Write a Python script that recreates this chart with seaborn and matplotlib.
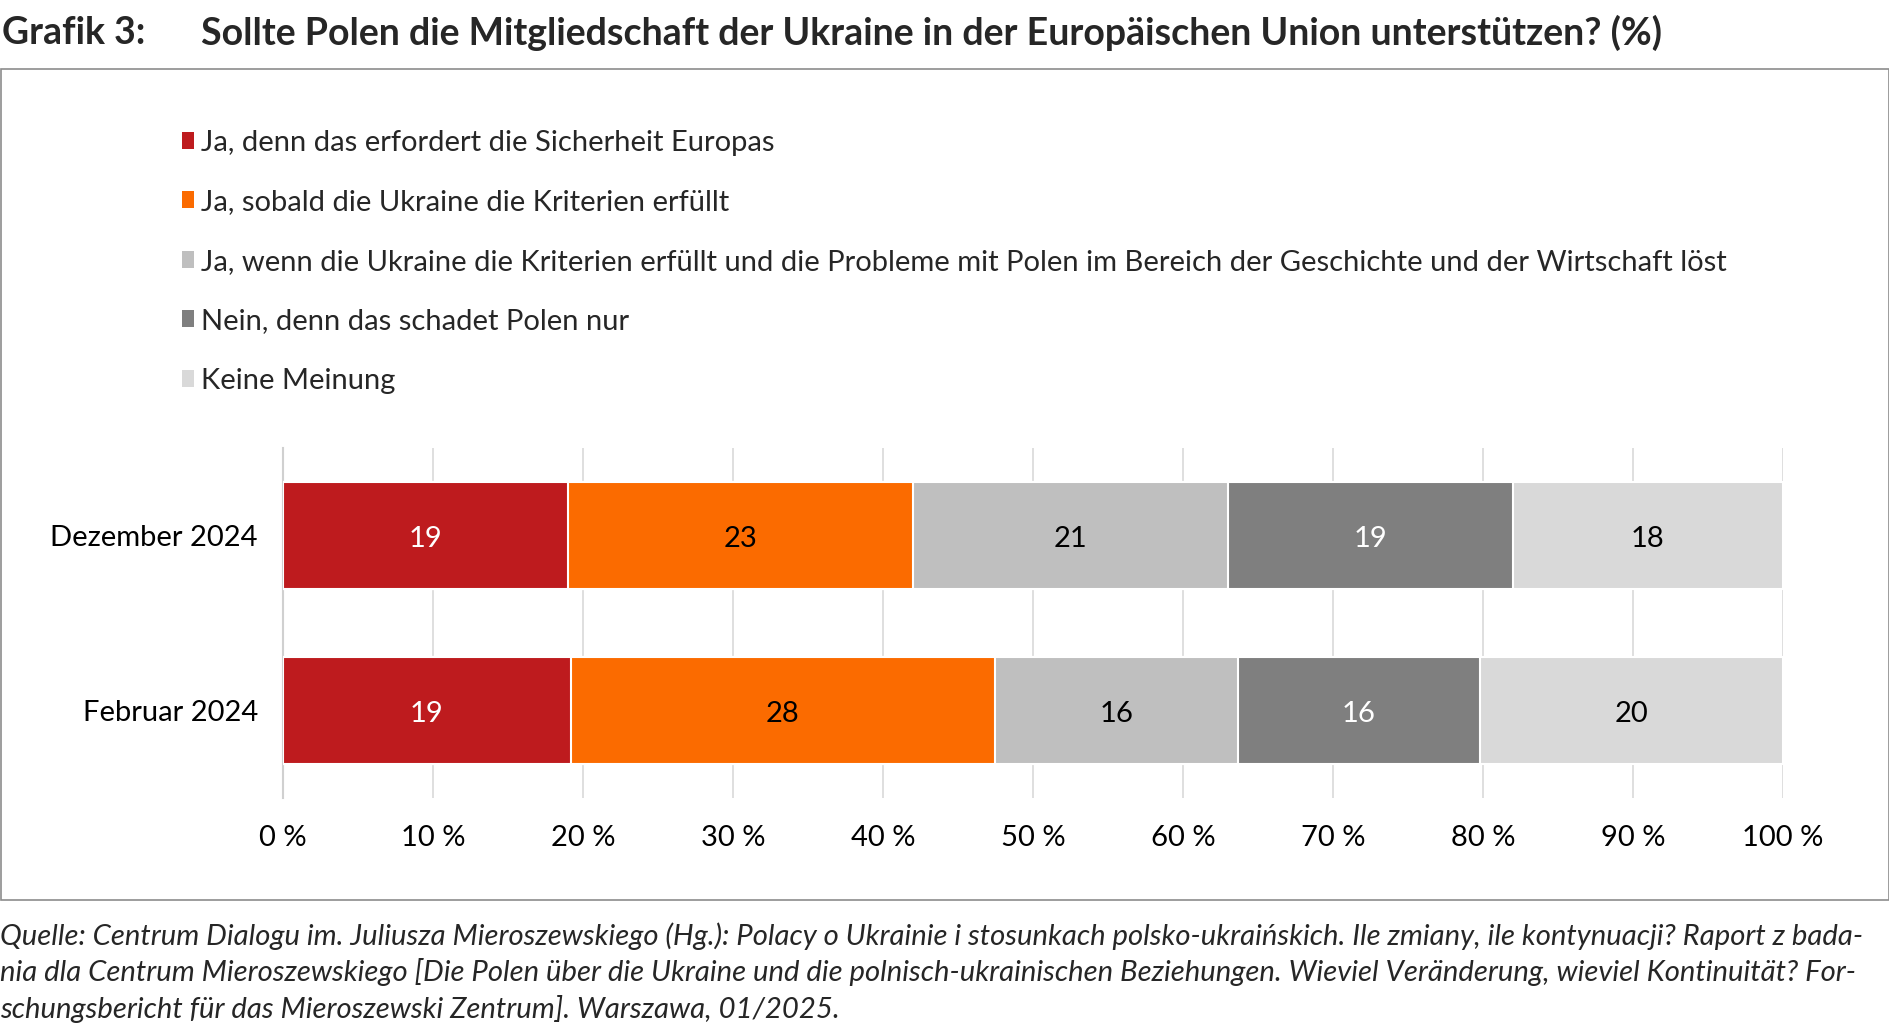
import numpy as np
import pandas as pd
import matplotlib
matplotlib.use("Agg")
import matplotlib.pyplot as plt
from matplotlib.patches import Patch, Rectangle
import seaborn as sns

# ---------------- data ----------------
categories = ["Dezember 2024", "Februar 2024"]
series = [
    "Ja, denn das erfordert die Sicherheit Europas",
    "Ja, sobald die Ukraine die Kriterien erfüllt",
    "Ja, wenn die Ukraine die Kriterien erfüllt und die Probleme mit Polen im Bereich der Geschichte und der Wirtschaft löst",
    "Nein, denn das schadet Polen nur",
    "Keine Meinung",
]
values_dez = [19, 23, 21, 19, 18]
values_feb = [19, 28, 16, 16, 20]
x_ticks = [0, 10, 20, 30, 40, 50, 60, 70, 80, 90, 100]
x_ticklabels = ["0 %", "10 %", "20 %", "30 %", "40 %", "50 %", "60 %", "70 %", "80 %", "90 %", "100 %"]

colors = ["#BE1B1E", "#FB6B00", "#BFBFBF", "#7F7F7F", "#D9D9D9"]
label_colors = ["white", "black", "black", "white", "black"]

title_prefix = "Grafik 3:"
title = "Sollte Polen die Mitgliedschaft der Ukraine in der Europäischen Union unterstützen? (%)"
source = ("Quelle: Centrum Dialogu im. Juliusza Mieroszewskiego (Hg.): Polacy o Ukrainie i stosunkach polsko-ukraińskich. Ile zmiany, ile kontynuacji? Raport z bada-\n"
          "nia dla Centrum Mieroszewskiego [Die Polen über die Ukraine und die polnisch-ukrainischen Beziehungen. Wieviel Veränderung, wieviel Kontinuität? For-\n"
          "schungsbericht für das Mieroszewski Zentrum]. Warszawa, 01/2025.")

# ---------------- prep ----------------
raw = np.array([values_dez, values_feb], dtype=float)
pct = raw / raw.sum(axis=1, keepdims=True) * 100.0   # 100% stacked
cum = np.cumsum(pct, axis=1)

sns.set_theme(style="white")
plt.rcParams["font.family"] = ["Lato", "DejaVu Sans"]

W, H, DPI = 1890, 1031, 100
fig = plt.figure(figsize=(W / DPI, H / DPI), dpi=DPI)

# outer frame
fig.patches.append(Rectangle((1 / W, 1 - 900 / H), (W - 2) / W, (900 - 69) / H,
                             transform=fig.transFigure, fill=False,
                             edgecolor="#8C8C8C", linewidth=1.2, zorder=0))

ax = fig.add_axes([283 / W, 1 - 798 / H, (1783 - 283) / W, (798 - 448) / H])

# layered cumulative bars (last first so earlier segments sit on top)
for i in reversed(range(len(series))):
    df = pd.DataFrame({"cat": categories, "val": cum[:, i]})
    sns.barplot(data=df, x="val", y="cat", orient="h", color=colors[i],
                width=0.61, edgecolor="white", linewidth=1.5, saturation=1,
                ax=ax, zorder=3)

# segment labels
for r in range(len(categories)):
    left = 0.0
    for i in range(len(series)):
        ax.annotate(f"{raw[r, i]:.0f}", xy=(left + pct[r, i] / 2, r), xytext=(0, -2.5),
                    textcoords="offset points", ha="center", va="center",
                    color=label_colors[i], fontsize=21, zorder=5)
        left += pct[r, i]

ax.set_xlim(0, 100)
ax.set_ylim(1.5, -0.5)
ax.set_xticks(x_ticks)
ax.set_xticklabels(x_ticklabels, fontsize=21)
ax.tick_params(axis="x", length=0, pad=19.5)
ax.set_yticks(range(len(categories)))
ax.set_yticklabels(categories, fontsize=21)
ax.tick_params(axis="y", which="major", length=0, pad=18)
ax.set_yticks([-0.5, 0.5, 1.5], minor=True)
ax.tick_params(axis="y", which="minor", length=6, width=1.5, color="#D0D0D0")
ax.set_xlabel("")
ax.set_ylabel("")
ax.xaxis.grid(True, color="#D9D9D9", linewidth=1.2, zorder=0)
ax.set_axisbelow(True)
for s in ["top", "right", "bottom"]:
    ax.spines[s].set_visible(False)
ax.spines["left"].set_color("#D0D0D0")
ax.spines["left"].set_linewidth(1.5)
for t in ax.get_xticklabels() + ax.get_yticklabels():
    t.set_color("black")

# legend
handles = [Patch(facecolor=c, edgecolor="none") for c in colors]
fig.legend(handles, series, loc="upper left", bbox_to_anchor=(182.5 / W, 1 - 129.5 / H),
           frameon=False, fontsize=21, handlelength=0.38, handleheight=0.52,
           handletextpad=0.25, labelspacing=1.15, borderaxespad=0, borderpad=0)

# title
fig.text(2 / W, 1 - 33 / H, title_prefix, fontsize=27, fontweight="bold", va="center", ha="left")
fig.text(201 / W, 1 - 33 / H, title, fontsize=27, fontweight="bold", va="center", ha="left")

# source
fig.text(0 / W, 1 - 922 / H, source, fontsize=21.1, style="italic", va="top", ha="left",
         linespacing=1.38)

fig.savefig("out.png", dpi=DPI, facecolor="white")
